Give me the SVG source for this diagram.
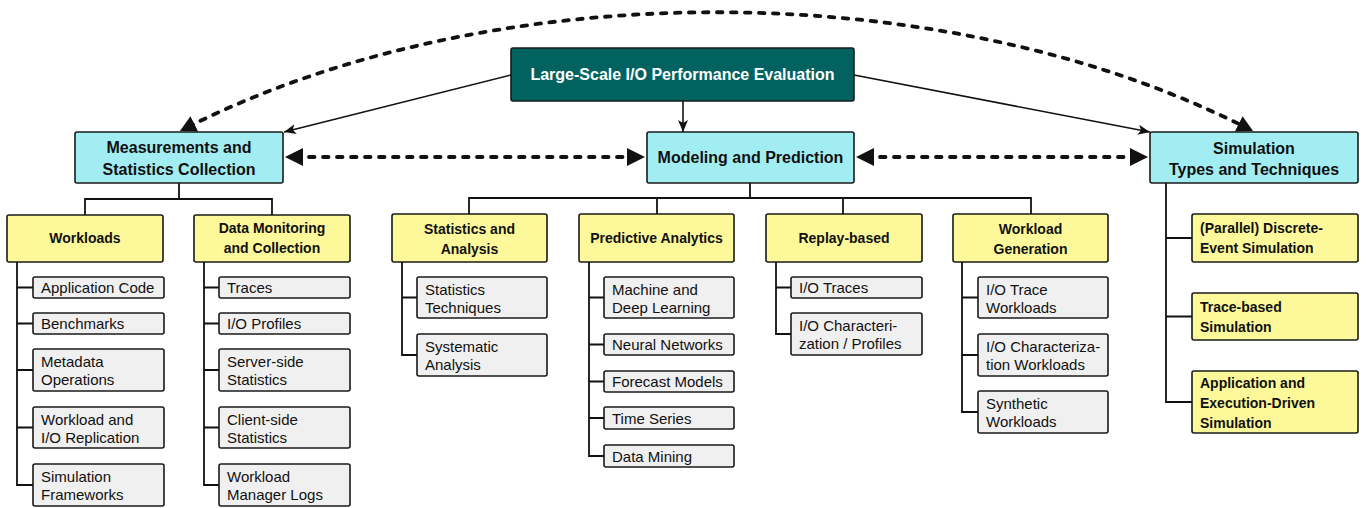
<svg xmlns="http://www.w3.org/2000/svg" width="1369" height="508" viewBox="0 0 1369 508">
<style>
.box{stroke:#1a1a1a;stroke-width:1.6}
.root{fill:#02625F}
.cy{fill:#A2EDF1}
.ye{fill:#FDF99A}
.gr{fill:#F0F0F0}
text{font-family:"Liberation Sans",Arial,sans-serif;fill:#111}
.t1{font-size:16px;font-weight:bold;text-anchor:middle}
.tw{fill:#fff}
.t2{font-size:14px;font-weight:bold;text-anchor:middle}
.t2l{font-size:14px;font-weight:bold}
.t3{font-size:15px}
.tree{fill:none;stroke:#111;stroke-width:1.8}
.sol{fill:none;stroke:#111;stroke-width:1.6}
.dash{fill:none;stroke:#111;stroke-width:3.8;stroke-dasharray:5.5 8.5;stroke-linecap:round}
</style>
<defs>
<marker id="sa" markerUnits="userSpaceOnUse" viewBox="0 0 12 10" markerWidth="12" markerHeight="10" refX="12" refY="5" orient="auto"><path d="M0,0 L12,5 L0,10 L3,5 z" fill="#111"/></marker>
<marker id="da" markerUnits="userSpaceOnUse" viewBox="0 0 18 18" markerWidth="18" markerHeight="18" refX="8" refY="9" orient="auto-start-reverse"><path d="M0,0 L18,9 L0,18 z" fill="#111"/></marker>
<marker id="db" markerUnits="userSpaceOnUse" viewBox="0 0 16 17" markerWidth="16" markerHeight="17" refX="7" refY="8.5" orient="auto-start-reverse"><path d="M0,0 L16,8.5 L0,17 z" fill="#111"/></marker>
</defs>

<g id="connectors">
<path class="dash" d="M188,127 C492,-26 941,-26 1245,127" marker-start="url(#db)" marker-end="url(#db)"/>
<path class="dash" d="M295,157 L635,157" marker-start="url(#da)" marker-end="url(#da)"/>
<path class="dash" d="M866,157 L1138,157" marker-start="url(#da)" marker-end="url(#da)"/>
<path class="sol" d="M511,75 L284,132" marker-end="url(#sa)"/>
<path class="sol" d="M854,75 L1150,132" marker-end="url(#sa)"/>
<path class="sol" d="M683,101 L683,132" marker-end="url(#sa)"/>
<path class="tree" d="M179,183 V199 M85,215 V199 H272 V215"/>
<path class="tree" d="M750,183 V198 M469,214 V198 H1031 V214 M657,198 V214 M843,198 V214"/>
<path class="tree" d="M17,262 V485 H33 M17,287.5 H33 M17,323.5 H33 M17,370 H33 M17,427.5 H33"/>
<path class="tree" d="M204,262 V485 H219 M204,287.5 H219 M204,323.5 H219 M204,370 H219 M204,427.5 H219"/>
<path class="tree" d="M402,262 V355 H417 M402,297.5 H417"/>
<path class="tree" d="M589,262 V456 H604 M589,297.5 H604 M589,344.5 H604 M589,381.5 H604 M589,418 H604"/>
<path class="tree" d="M776,262 V334 H791 M776,287.5 H791"/>
<path class="tree" d="M962,262 V412 H978 M962,297.5 H978 M962,355 H978"/>
<path class="tree" d="M1166,183 V402 H1192 M1166,238 H1192 M1166,316.5 H1192"/>
</g>

<g id="root"><rect class="box root" x="511" y="48" width="343" height="53" rx="2"/><text class="t1 tw" x="682.5" y="80">Large-Scale I/O Performance Evaluation</text></g>

<g id="measurements"><rect class="box cy" x="75" y="132" width="208" height="51" rx="2"/><text class="t1" x="179" y="153">Measurements and</text><text class="t1" x="179" y="175">Statistics Collection</text></g>
<g id="modeling"><rect class="box cy" x="647" y="132" width="207" height="51" rx="2"/><text class="t1" x="750.5" y="163">Modeling and Prediction</text></g>
<g id="simulation"><rect class="box cy" x="1150" y="132" width="208" height="51" rx="2"/><text class="t1" x="1254" y="154">Simulation</text><text class="t1" x="1254" y="175">Types and Techniques</text></g>

<g id="workloads"><rect class="box ye" x="7" y="215" width="156" height="47" rx="2"/><text class="t2" x="85" y="243">Workloads</text></g>
<g id="datamon"><rect class="box ye" x="194" y="215" width="156" height="47" rx="2"/><text class="t2" x="272" y="233">Data Monitoring</text><text class="t2" x="272" y="253">and Collection</text></g>
<g id="statan"><rect class="box ye" x="392" y="214" width="155" height="48" rx="2"/><text class="t2" x="469.5" y="234">Statistics and</text><text class="t2" x="469.5" y="254">Analysis</text></g>
<g id="predictive"><rect class="box ye" x="579" y="214" width="155" height="48" rx="2"/><text class="t2" x="656.5" y="243">Predictive Analytics</text></g>
<g id="replay"><rect class="box ye" x="766" y="214" width="156" height="48" rx="2"/><text class="t2" x="844" y="243">Replay-based</text></g>
<g id="wlgen"><rect class="box ye" x="953" y="214" width="155" height="48" rx="2"/><text class="t2" x="1030.5" y="234">Workload</text><text class="t2" x="1030.5" y="254">Generation</text></g>

<g id="des"><rect class="box ye" x="1192" y="214" width="166" height="48" rx="2"/><text class="t2l" x="1200" y="233">(Parallel) Discrete-</text><text class="t2l" x="1200" y="253">Event Simulation</text></g>
<g id="tracesim"><rect class="box ye" x="1192" y="293" width="166" height="47" rx="2"/><text class="t2l" x="1200" y="312">Trace-based</text><text class="t2l" x="1200" y="332">Simulation</text></g>
<g id="appsim"><rect class="box ye" x="1192" y="371" width="166" height="62" rx="2"/><text class="t2l" x="1200" y="388">Application and</text><text class="t2l" x="1200" y="408">Execution-Driven</text><text class="t2l" x="1200" y="428">Simulation</text></g>

<g id="appcode"><rect class="box gr" x="33" y="277" width="131" height="21" rx="2"/><text class="t3" x="41" y="293">Application Code</text></g>
<g id="bench"><rect class="box gr" x="33" y="313" width="131" height="21" rx="2"/><text class="t3" x="41" y="329">Benchmarks</text></g>
<g id="meta"><rect class="box gr" x="33" y="349" width="131" height="42" rx="2"/><text class="t3" x="41" y="367">Metadata</text><text class="t3" x="41" y="385">Operations</text></g>
<g id="wlrep"><rect class="box gr" x="33" y="407" width="131" height="41" rx="2"/><text class="t3" x="41" y="425">Workload and</text><text class="t3" x="41" y="443">I/O Replication</text></g>
<g id="simfw"><rect class="box gr" x="33" y="464" width="131" height="42" rx="2"/><text class="t3" x="41" y="482">Simulation</text><text class="t3" x="41" y="500">Frameworks</text></g>

<g id="traces"><rect class="box gr" x="219" y="277" width="131" height="21" rx="2"/><text class="t3" x="227" y="293">Traces</text></g>
<g id="ioprof"><rect class="box gr" x="219" y="313" width="131" height="21" rx="2"/><text class="t3" x="227" y="329">I/O Profiles</text></g>
<g id="server"><rect class="box gr" x="219" y="349" width="131" height="42" rx="2"/><text class="t3" x="227" y="367">Server-side</text><text class="t3" x="227" y="385">Statistics</text></g>
<g id="client"><rect class="box gr" x="219" y="407" width="131" height="41" rx="2"/><text class="t3" x="227" y="425">Client-side</text><text class="t3" x="227" y="443">Statistics</text></g>
<g id="wlmgr"><rect class="box gr" x="219" y="464" width="131" height="42" rx="2"/><text class="t3" x="227" y="482">Workload</text><text class="t3" x="227" y="500">Manager Logs</text></g>

<g id="stattech"><rect class="box gr" x="417" y="277" width="130" height="41" rx="2"/><text class="t3" x="425" y="295">Statistics</text><text class="t3" x="425" y="313">Techniques</text></g>
<g id="sysan"><rect class="box gr" x="417" y="334" width="130" height="42" rx="2"/><text class="t3" x="425" y="352">Systematic</text><text class="t3" x="425" y="370">Analysis</text></g>

<g id="ml"><rect class="box gr" x="604" y="277" width="130" height="41" rx="2"/><text class="t3" x="612" y="295">Machine and</text><text class="t3" x="612" y="313">Deep Learning</text></g>
<g id="nn"><rect class="box gr" x="604" y="334" width="130" height="21" rx="2"/><text class="t3" x="612" y="350">Neural Networks</text></g>
<g id="fm"><rect class="box gr" x="604" y="371" width="130" height="21" rx="2"/><text class="t3" x="612" y="387">Forecast Models</text></g>
<g id="ts"><rect class="box gr" x="604" y="407" width="130" height="22" rx="2"/><text class="t3" x="612" y="423.5">Time Series</text></g>
<g id="dm"><rect class="box gr" x="604" y="445" width="130" height="22" rx="2"/><text class="t3" x="612" y="461.5">Data Mining</text></g>

<g id="iotr"><rect class="box gr" x="791" y="277" width="131" height="21" rx="2"/><text class="t3" x="799" y="293">I/O Traces</text></g>
<g id="iochar"><rect class="box gr" x="791" y="313" width="131" height="42" rx="2"/><text class="t3" x="799" y="331">I/O Characteri-</text><text class="t3" x="799" y="349">zation / Profiles</text></g>

<g id="iotw"><rect class="box gr" x="978" y="277" width="130" height="41" rx="2"/><text class="t3" x="986" y="295">I/O Trace</text><text class="t3" x="986" y="313">Workloads</text></g>
<g id="iocw"><rect class="box gr" x="978" y="334" width="130" height="42" rx="2"/><text class="t3" x="986" y="352">I/O Characteriza-</text><text class="t3" x="986" y="370">tion Workloads</text></g>
<g id="synw"><rect class="box gr" x="978" y="391" width="130" height="42" rx="2"/><text class="t3" x="986" y="409">Synthetic</text><text class="t3" x="986" y="427">Workloads</text></g>
</svg>
